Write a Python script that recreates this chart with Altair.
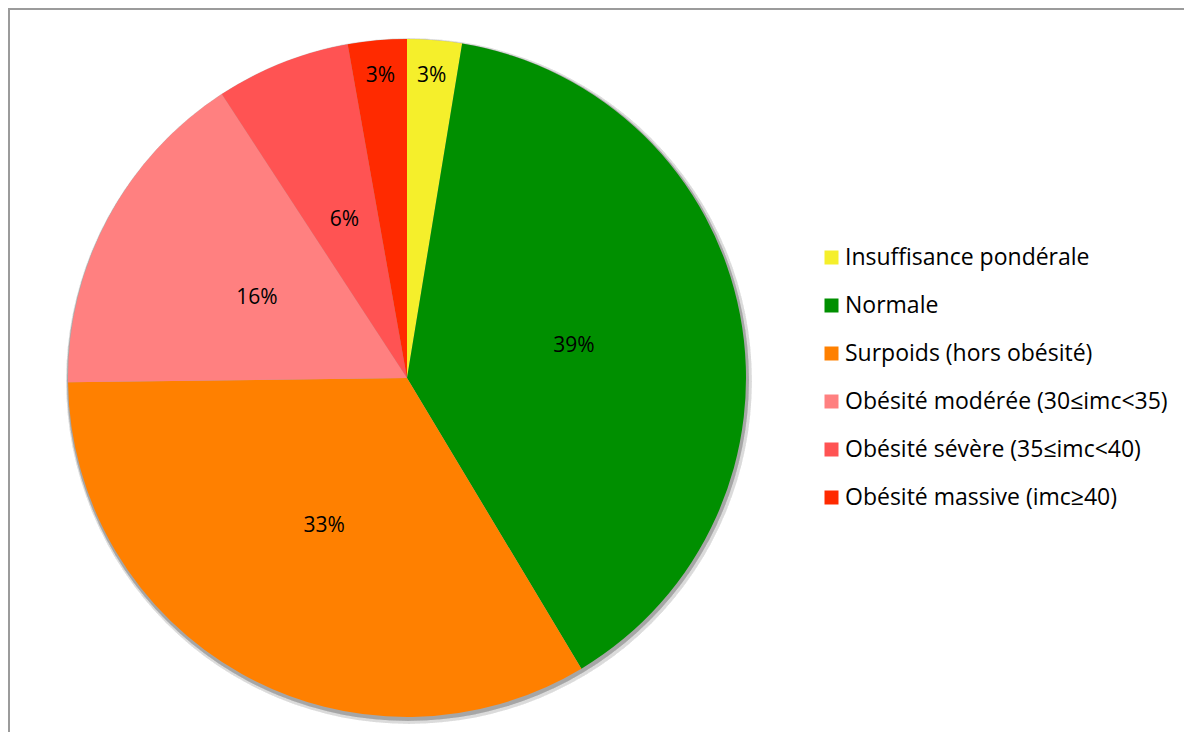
import altair as alt
import pandas as pd

categories = [
    "Insuffisance pondérale",
    "Normale",
    "Surpoids (hors obésité)",
    "Obésité modérée (30≤imc<35)",
    "Obésité sévère (35≤imc<40)",
    "Obésité massive (imc≥40)",
]
values = [2.6, 38.8, 33.4, 16.0, 6.4, 2.8]
labels = ["3%", "39%", "33%", "16%", "6%", "3%"]
colors = ["#f5ef2b", "#008f00", "#ff8000", "#ff8080", "#ff5353", "#ff2a00"]

df = pd.DataFrame({"cat": categories, "val": values, "label": labels, "order": list(range(len(categories)))})

CX, CY, R = 399, 370, 339
FONT = "Open Sans"

base = alt.Chart(df).encode(
    theta=alt.Theta("val:Q", stack=True),
    order=alt.Order("order:Q"),
)

shadow1 = alt.Chart(df).mark_arc(theta=0, theta2=6.2832, radius=R + 4, fill="#000000", opacity=0.025).encode(
    x=alt.value(CX + 2), y=alt.value(CY + 3)
)
shadow2 = alt.Chart(df).mark_arc(theta=0, theta2=6.2832, radius=R + 2, fill="#000000", opacity=0.045).encode(
    x=alt.value(CX + 1), y=alt.value(CY + 2)
)

pie = base.mark_arc(radius=R).encode(
    x=alt.value(CX),
    y=alt.value(CY),
    color=alt.Color(
        "cat:N",
        sort=categories,
        scale=alt.Scale(domain=categories, range=colors),
        legend=alt.Legend(
            title=None,
            orient="none",
            legendX=812,
            legendY=238,
            symbolType="square",
            symbolSize=196,
            symbolStrokeWidth=0,
            labelFont=FONT,
            labelFontSize=23,
            labelColor="#000000",
            labelLimit=500,
            labelOffset=2,
            rowPadding=24,
            padding=0,
        ),
    ),
)

text_big = base.transform_calculate(
    t="datum.val >= 5 ? datum.label : ''"
).mark_text(radius=170, font=FONT, fontSize=21, color="#000000").encode(
    x=alt.value(CX), y=alt.value(CY), text="t:N"
)
text_small = base.transform_calculate(
    t="datum.val < 5 ? datum.label : ''"
).mark_text(radius=303, font=FONT, fontSize=21, color="#000000").encode(
    x=alt.value(CX), y=alt.value(CY), text="t:N"
)

border_top = alt.Chart(df).mark_rule(color="#9b9b9b", strokeWidth=2).encode(
    x=alt.value(0), x2=alt.value(1176), y=alt.value(1)
)
border_left = alt.Chart(df).mark_rule(color="#9b9b9b", strokeWidth=2).encode(
    x=alt.value(1), y=alt.value(0), y2=alt.value(724)
)

chart = alt.layer(shadow1, shadow2, pie, text_big, text_small, border_top, border_left).properties(
    width=1176,
    height=724,
    padding=0,
    autosize=alt.AutoSizeParams(type="none"),
).configure_view(stroke=None).configure(background="#ffffff")

chart.save("out.html", embed_options={"renderer": "svg", "actions": False})
